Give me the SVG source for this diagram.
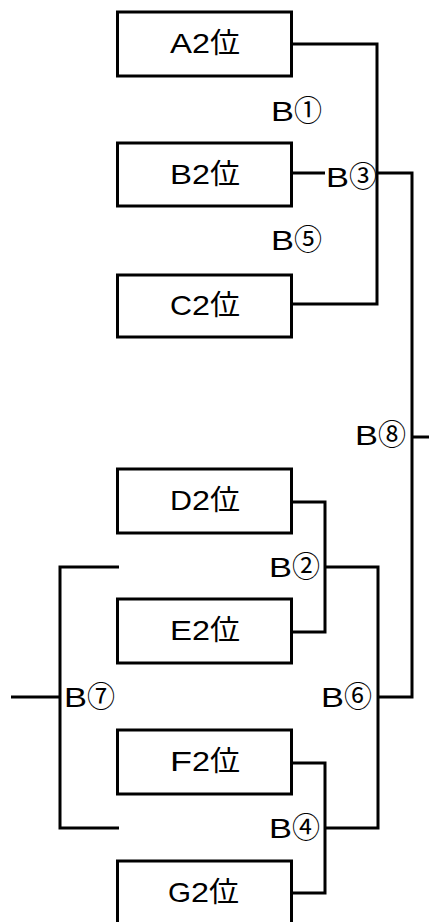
<svg xmlns="http://www.w3.org/2000/svg" width="429" height="922" viewBox="0 0 429 922">
<style>
  .box { fill: #ffffff; stroke: #000000; stroke-width: 3; }
  .t { font-family: "Liberation Sans", "Noto Sans CJK JP", sans-serif; font-size: 27px; fill: #000000; }
  .n { font-size: 28px; }
  .d { font-size: 29px; }
  .ln { fill: none; stroke: #000000; stroke-width: 3; }
</style>
<rect width="429" height="922" fill="#ffffff"/>
<g id="connectors">
  <path class="ln" d="M292,44 H377 V304 H292"/>
  <path class="ln" d="M292,173 H325"/>
  <path class="ln" d="M377,173 H412 V697 H378"/>
  <path class="ln" d="M412,437 H429"/>
  <path class="ln" d="M292,502 H325 V632 H292"/>
  <path class="ln" d="M325,567 H378 V828 H325"/>
  <path class="ln" d="M292,763 H325 V893 H292"/>
  <path class="ln" d="M119,567 H60 V828 H119"/>
  <path class="ln" d="M11,697 H60"/>
</g>
<g id="nodeA"><rect class="box" x="117.5" y="12" width="174" height="64"/><text class="t n" x="170" y="53"><tspan textLength="22" lengthAdjust="spacingAndGlyphs">A</tspan><tspan textLength="18" lengthAdjust="spacingAndGlyphs">2</tspan><tspan textLength="30" lengthAdjust="spacingAndGlyphs">位</tspan></text></g>
<g id="nodeB"><rect class="box" x="117.5" y="143" width="174" height="63"/><text class="t n" x="170" y="184"><tspan textLength="22" lengthAdjust="spacingAndGlyphs">B</tspan><tspan textLength="18" lengthAdjust="spacingAndGlyphs">2</tspan><tspan textLength="30" lengthAdjust="spacingAndGlyphs">位</tspan></text></g>
<g id="nodeC"><rect class="box" x="117.5" y="275" width="174" height="62"/><text class="t n" x="170" y="315"><tspan textLength="22" lengthAdjust="spacingAndGlyphs">C</tspan><tspan textLength="18" lengthAdjust="spacingAndGlyphs">2</tspan><tspan textLength="30" lengthAdjust="spacingAndGlyphs">位</tspan></text></g>
<g id="nodeD"><rect class="box" x="117.5" y="469" width="174" height="64"/><text class="t n" x="170" y="510"><tspan textLength="22" lengthAdjust="spacingAndGlyphs">D</tspan><tspan textLength="18" lengthAdjust="spacingAndGlyphs">2</tspan><tspan textLength="30" lengthAdjust="spacingAndGlyphs">位</tspan></text></g>
<g id="nodeE"><rect class="box" x="117.5" y="599" width="174" height="64"/><text class="t n" x="170" y="640"><tspan textLength="22" lengthAdjust="spacingAndGlyphs">E</tspan><tspan textLength="18" lengthAdjust="spacingAndGlyphs">2</tspan><tspan textLength="30" lengthAdjust="spacingAndGlyphs">位</tspan></text></g>
<g id="nodeF"><rect class="box" x="117.5" y="730" width="174" height="64"/><text class="t n" x="170" y="771"><tspan textLength="22" lengthAdjust="spacingAndGlyphs">F</tspan><tspan textLength="18" lengthAdjust="spacingAndGlyphs">2</tspan><tspan textLength="30" lengthAdjust="spacingAndGlyphs">位</tspan></text></g>
<g id="nodeG"><rect class="box" x="117.5" y="861" width="174" height="64"/><text class="t n" x="168" y="902"><tspan textLength="23" lengthAdjust="spacingAndGlyphs">G</tspan><tspan textLength="18" lengthAdjust="spacingAndGlyphs">2</tspan><tspan textLength="30" lengthAdjust="spacingAndGlyphs">位</tspan></text></g>
<g id="labels">
  <text class="t" x="271" y="121"><tspan textLength="23" lengthAdjust="spacingAndGlyphs">B</tspan><tspan class="d" textLength="28" lengthAdjust="spacingAndGlyphs">①</tspan></text>
  <text class="t" x="326" y="187"><tspan textLength="23" lengthAdjust="spacingAndGlyphs">B</tspan><tspan class="d" textLength="28" lengthAdjust="spacingAndGlyphs">③</tspan></text>
  <text class="t" x="271" y="250"><tspan textLength="23" lengthAdjust="spacingAndGlyphs">B</tspan><tspan class="d" textLength="28" lengthAdjust="spacingAndGlyphs">⑤</tspan></text>
  <text class="t" x="355" y="445"><tspan textLength="23" lengthAdjust="spacingAndGlyphs">B</tspan><tspan class="d" textLength="28" lengthAdjust="spacingAndGlyphs">⑧</tspan></text>
  <text class="t" x="269" y="577"><tspan textLength="23" lengthAdjust="spacingAndGlyphs">B</tspan><tspan class="d" textLength="28" lengthAdjust="spacingAndGlyphs">②</tspan></text>
  <text class="t" x="64" y="707"><tspan textLength="23" lengthAdjust="spacingAndGlyphs">B</tspan><tspan class="d" textLength="28" lengthAdjust="spacingAndGlyphs">⑦</tspan></text>
  <text class="t" x="321" y="707"><tspan textLength="23" lengthAdjust="spacingAndGlyphs">B</tspan><tspan class="d" textLength="28" lengthAdjust="spacingAndGlyphs">⑥</tspan></text>
  <text class="t" x="269" y="838"><tspan textLength="23" lengthAdjust="spacingAndGlyphs">B</tspan><tspan class="d" textLength="28" lengthAdjust="spacingAndGlyphs">④</tspan></text>
</g>
</svg>
